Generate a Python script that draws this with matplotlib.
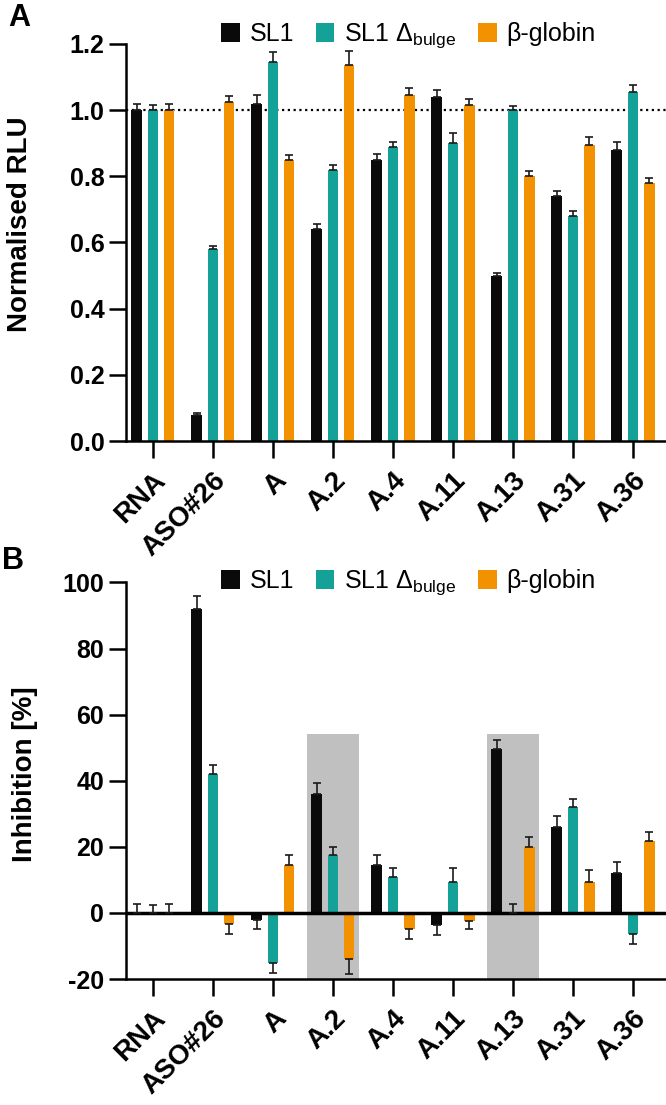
import matplotlib.pyplot as plt
import numpy as np

plt.rcParams['font.family'] = ['Liberation Sans', 'DejaVu Sans']
plt.rcParams['axes.unicode_minus'] = False

# categories / series
groups = ["RNA", "ASO#26", "A", "A.2", "A.4", "A.11", "A.13", "A.31", "A.36"]
series = ["SL1", "SL1 Δ$_{\\mathregular{bulge}}$", "β-globin"]
colors = ["#0a0a0a", "#13a198", "#f39200"]

# panel A: normalised RLU (mean, upper error)
rlu_sl1 = [1.00, 0.08, 1.02, 0.64, 0.85, 1.04, 0.50, 0.74, 0.88]
rlu_sl1_err = [0.018, 0.005, 0.025, 0.015, 0.018, 0.022, 0.008, 0.016, 0.024]
rlu_dbulge = [1.00, 0.58, 1.145, 0.82, 0.89, 0.90, 1.00, 0.68, 1.055]
rlu_dbulge_err = [0.017, 0.01, 0.03, 0.015, 0.014, 0.031, 0.014, 0.015, 0.021]
rlu_bglob = [1.00, 1.025, 0.85, 1.135, 1.045, 1.015, 0.80, 0.895, 0.78]
rlu_bglob_err = [0.019, 0.018, 0.015, 0.043, 0.021, 0.019, 0.016, 0.023, 0.014]

# panel B: inhibition [%]
inh_sl1 = [0, 92, -2, 36, 14.5, -3.8, 49.5, 26, 12]
inh_sl1_err = [2.7, 4, 3, 3.3, 3, 3, 2.7, 3.2, 3.4]
inh_dbulge = [0, 42, -15, 17.5, 11, 9.5, 0, 32, -6.5]
inh_dbulge_err = [2.5, 2.7, 3.3, 2.5, 2.5, 4, 2.6, 2.6, 3]
inh_bglob = [0, -3.5, 14.5, -14, -5, -2.3, 20, 9.5, 21.7]
inh_bglob_err = [2.7, 2.8, 3, 4.5, 3, 2.7, 3, 3.4, 2.8]

highlight = ["A.2", "A.13"]
highlight_top = 54

fig = plt.figure(figsize=(6.66, 11.05), dpi=100)
axA = fig.add_axes([0.189, 0.6009, 0.811, 0.3593])
axB = fig.add_axes([0.189, 0.114, 0.811, 0.3589])

x = np.arange(len(groups))
offs = [-0.272, 0, 0.272]
bw = 0.175


def draw(ax, vals, errs):
    for k in range(3):
        v = np.array(vals[k], dtype=float)
        e = np.array(errs[k], dtype=float)
        lo = np.where(v < 0, e, 0)
        hi = np.where(v >= 0, e, 0)
        ax.bar(x + offs[k], v, bw, color=colors[k], label=series[k], zorder=2)
        ax.errorbar(x + offs[k], v, yerr=[lo, hi], fmt='none', ecolor='#1a1a1a',
                    elinewidth=1.2, capsize=3, capthick=1.2, zorder=3)
    for s in ['top', 'right']:
        ax.spines[s].set_visible(False)
    for s in ['left', 'bottom']:
        ax.spines[s].set_linewidth(1.8)
    ax.tick_params(width=1.8, length=12, labelsize=18)
    ax.set_xlim(-0.45, 8.55)
    ax.set_xticks(x)
    ax.set_xticklabels(groups, rotation=45, ha='right', va='top',
                       rotation_mode='anchor', fontweight='bold', fontsize=20)
    ax.tick_params(axis='x', pad=7)
    for t in ax.get_yticklabels():
        t.set_fontweight('bold')
    ax.legend(loc='center left', frameon=False, ncol=3, fontsize=18,
              handlelength=0.75, handleheight=0.75, handletextpad=0.4,
              columnspacing=0.85, borderpad=0, borderaxespad=0)


# panel A
axA.axhline(1.0, color='black', lw=1.6, linestyle=(0, (1, 1.6)), zorder=1)
axA.set_ylim(0, 1.2)
axA.set_yticks(np.arange(0, 1.21, 0.2))
axA.set_yticklabels([f"{t:.1f}" for t in np.arange(0, 1.21, 0.2)])
draw(axA, [rlu_sl1, rlu_dbulge, rlu_bglob], [rlu_sl1_err, rlu_dbulge_err, rlu_bglob_err])
axA.get_legend().set_bbox_to_anchor((221 / 666, 1 - 36 / 1105), transform=fig.transFigure)
axA.set_ylabel("Normalised RLU", fontsize=20, fontweight='bold')
axA.yaxis.set_label_coords(-0.172, 0.545)

# panel B
for h in highlight:
    i = groups.index(h)
    axB.bar(i, highlight_top + 20, 0.866, bottom=-20, color='#c0c0c0', zorder=0)
axB.axhline(0, color='black', lw=2.5, zorder=2.5)
axB.set_ylim(-20, 100)
axB.set_yticks(np.arange(-20, 101, 20))
draw(axB, [inh_sl1, inh_dbulge, inh_bglob], [inh_sl1_err, inh_dbulge_err, inh_bglob_err])
axB.get_legend().set_bbox_to_anchor((221 / 666, 1 - 583 / 1105), transform=fig.transFigure)
axB.set_ylabel("Inhibition [%]", fontsize=20, fontweight='bold')
axB.yaxis.set_label_coords(-0.163, 0.517)

fig.text(0.012, 1 - 18 / 1105, "A", fontsize=22, fontweight='bold', va='center')
fig.text(0.003, 1 - 561 / 1105, "B", fontsize=22, fontweight='bold', va='center')

fig.savefig("out.png", dpi=100)
